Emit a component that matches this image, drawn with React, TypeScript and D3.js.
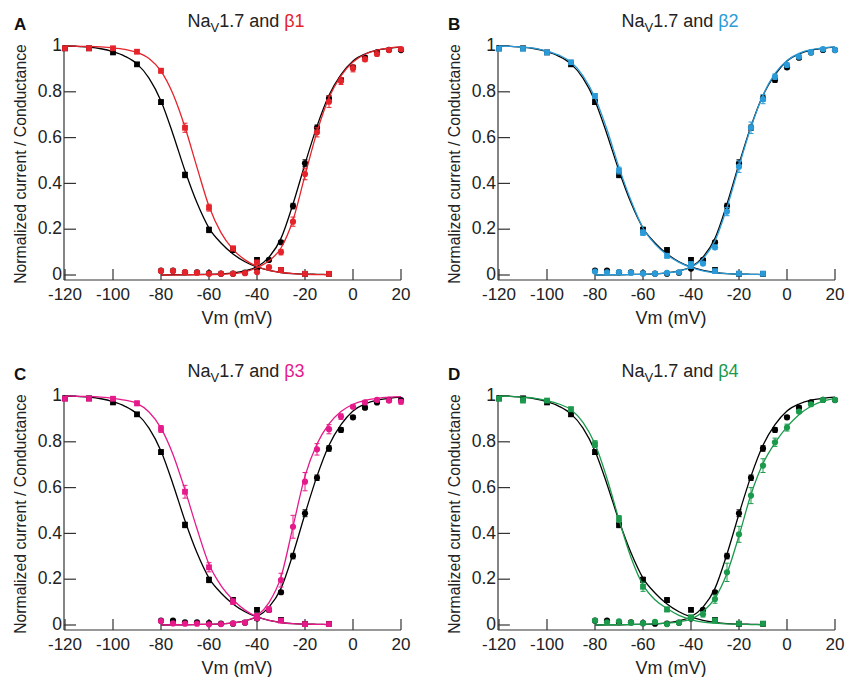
import React from "react";
import * as d3 from "d3";

// voltage steps
const inactV = [-120, -110, -100, -90, -80, -70, -60, -50, -40, -30, -20, -10];
const actV = [-80, -75, -70, -65, -60, -55, -50, -45, -40, -35, -30, -25, -20, -15, -10, -5, 0, 5, 10, 15, 20];
const inactFitV = [-120, -115, -110, -105, -100, -95, -90, -85, -80, -75, -70, -65, -60, -55, -50, -45, -40, -35, -30, -25, -20, -15, -10];
const actFitV = actV;

const xTicks = [-120, -100, -80, -60, -40, -20, 0, 20];
const yTicks = [0, 0.2, 0.4, 0.6, 0.8, 1];

// Nav1.7 alone (black, same in every panel)
const ctrlInact = [0.99, 0.99, 0.972, 0.92, 0.755, 0.437, 0.197, 0.109, 0.066, 0.022, 0.005, 0.005];
const ctrlInactErr = [0.005, 0.005, 0.006, 0.008, 0.01, 0.012, 0.012, 0.01, 0.006, 0.005, 0.003, 0.003];
const ctrlAct = [0.019, 0.019, 0.012, 0.012, 0.008, 0.006, 0.006, 0.01, 0.028, 0.066, 0.143, 0.301, 0.488, 0.643, 0.771, 0.852, 0.907, 0.949, 0.972, 0.983, 0.982];
const ctrlActErr = [0.003, 0.003, 0.003, 0.003, 0.003, 0.003, 0.003, 0.003, 0.005, 0.006, 0.008, 0.012, 0.015, 0.012, 0.012, 0.01, 0.008, 0.008, 0.006, 0.005, 0.005];
const ctrlInactFit = [1.0, 0.998, 0.995, 0.988, 0.975, 0.955, 0.922, 0.86, 0.76, 0.615, 0.455, 0.315, 0.205, 0.14, 0.092, 0.058, 0.035, 0.02, 0.011, 0.006, 0.004, 0.003, 0.002];
const ctrlActFit = [0.0, 0.001, 0.001, 0.002, 0.003, 0.005, 0.009, 0.018, 0.036, 0.078, 0.16, 0.31, 0.485, 0.65, 0.785, 0.875, 0.935, 0.965, 0.982, 0.99, 0.995];

// + beta1 (red)
const b1Inact = [0.99, 0.99, 0.99, 0.975, 0.892, 0.643, 0.294, 0.116, 0.055, 0.022, 0.005, 0.005];
const b1InactErr = [0.005, 0.005, 0.006, 0.008, 0.01, 0.02, 0.015, 0.01, 0.006, 0.005, 0.003, 0.003];
const b1Act = [0.018, 0.018, 0.013, 0.01, 0.006, 0.006, 0.006, 0.008, 0.012, 0.034, 0.1, 0.233, 0.441, 0.623, 0.757, 0.847, 0.902, 0.942, 0.965, 0.982, 0.986];
const b1ActErr = [0.003, 0.003, 0.003, 0.003, 0.003, 0.003, 0.003, 0.003, 0.004, 0.006, 0.012, 0.02, 0.025, 0.02, 0.025, 0.015, 0.015, 0.01, 0.008, 0.006, 0.005];
const b1InactFit = [1.0, 0.999, 0.998, 0.996, 0.992, 0.985, 0.972, 0.945, 0.89, 0.79, 0.645, 0.47, 0.3, 0.185, 0.112, 0.066, 0.037, 0.02, 0.011, 0.006, 0.003, 0.002, 0.001];
const b1ActFit = [0.0, 0.0, 0.001, 0.001, 0.002, 0.003, 0.006, 0.014, 0.032, 0.062, 0.118, 0.24, 0.435, 0.625, 0.775, 0.87, 0.93, 0.964, 0.982, 0.991, 0.996];

// + beta2 (blue)
const b2Inact = [0.988, 0.988, 0.972, 0.929, 0.782, 0.456, 0.185, 0.084, 0.048, 0.017, 0.006, 0.006];
const b2InactErr = [0.005, 0.005, 0.006, 0.008, 0.01, 0.015, 0.012, 0.01, 0.006, 0.005, 0.003, 0.003];
const b2Act = [0.015, 0.012, 0.013, 0.01, 0.007, 0.006, 0.009, 0.012, 0.04, 0.05, 0.121, 0.277, 0.473, 0.643, 0.768, 0.866, 0.917, 0.953, 0.972, 0.986, 0.983];
const b2ActErr = [0.003, 0.003, 0.003, 0.003, 0.003, 0.003, 0.003, 0.003, 0.006, 0.008, 0.01, 0.018, 0.025, 0.025, 0.02, 0.012, 0.01, 0.008, 0.006, 0.005, 0.005];
const b2InactFit = [1.0, 0.998, 0.995, 0.99, 0.978, 0.96, 0.93, 0.87, 0.775, 0.635, 0.47, 0.325, 0.205, 0.135, 0.088, 0.055, 0.033, 0.018, 0.01, 0.006, 0.004, 0.003, 0.002];
const b2ActFit = [0.0, 0.001, 0.001, 0.002, 0.003, 0.005, 0.009, 0.017, 0.034, 0.072, 0.15, 0.295, 0.475, 0.645, 0.785, 0.88, 0.937, 0.968, 0.984, 0.992, 0.996];

// + beta3 (magenta)
const b3Inact = [0.988, 0.988, 0.988, 0.968, 0.856, 0.582, 0.252, 0.102, 0.04, 0.019, 0.004, 0.004];
const b3InactErr = [0.005, 0.005, 0.006, 0.01, 0.015, 0.028, 0.02, 0.012, 0.008, 0.005, 0.003, 0.003];
const b3Act = [0.017, 0.007, 0.006, 0.006, 0.003, 0.004, 0.007, 0.01, 0.03, 0.068, 0.196, 0.429, 0.626, 0.767, 0.855, 0.91, 0.953, 0.972, 0.983, 0.98, 0.975];
const b3ActErr = [0.003, 0.003, 0.003, 0.003, 0.003, 0.003, 0.003, 0.003, 0.01, 0.012, 0.03, 0.05, 0.04, 0.025, 0.02, 0.012, 0.008, 0.006, 0.006, 0.008, 0.01];
const b3InactFit = [1.0, 0.999, 0.998, 0.995, 0.99, 0.982, 0.968, 0.93, 0.86, 0.745, 0.59, 0.42, 0.265, 0.172, 0.11, 0.065, 0.036, 0.02, 0.011, 0.006, 0.004, 0.003, 0.002];
const b3ActFit = [0.0, 0.001, 0.001, 0.002, 0.003, 0.005, 0.009, 0.018, 0.04, 0.098, 0.21, 0.43, 0.65, 0.79, 0.878, 0.932, 0.964, 0.981, 0.99, 0.995, 0.997];

// + beta4 (green)
const b4Inact = [0.988, 0.98, 0.98, 0.942, 0.79, 0.463, 0.167, 0.068, 0.034, 0.02, 0.006, 0.006];
const b4InactErr = [0.005, 0.005, 0.006, 0.01, 0.015, 0.015, 0.02, 0.01, 0.006, 0.005, 0.003, 0.003];
const b4Act = [0.019, 0.012, 0.016, 0.01, 0.008, 0.014, 0.004, 0.01, 0.029, 0.047, 0.113, 0.23, 0.396, 0.565, 0.696, 0.798, 0.862, 0.932, 0.964, 0.983, 0.983];
const b4ActErr = [0.003, 0.003, 0.003, 0.003, 0.003, 0.003, 0.003, 0.003, 0.008, 0.012, 0.018, 0.04, 0.035, 0.035, 0.03, 0.018, 0.015, 0.008, 0.008, 0.006, 0.005];
const b4InactFit = [1.0, 0.998, 0.995, 0.99, 0.98, 0.965, 0.94, 0.885, 0.79, 0.64, 0.46, 0.295, 0.175, 0.11, 0.072, 0.042, 0.024, 0.013, 0.008, 0.005, 0.003, 0.002, 0.001];
const b4ActFit = [0.0, 0.001, 0.001, 0.002, 0.003, 0.005, 0.008, 0.014, 0.026, 0.058, 0.117, 0.226, 0.39, 0.57, 0.705, 0.795, 0.865, 0.918, 0.955, 0.978, 0.99];

const panels = [
  { letter: "A", beta: "β1", color: "#e5232b", ox: 0, oy: 0, inact: b1Inact, inactErr: b1InactErr, act: b1Act, actErr: b1ActErr, inactFit: b1InactFit, actFit: b1ActFit },
  { letter: "B", beta: "β2", color: "#2a9bd8", ox: 434, oy: 0, inact: b2Inact, inactErr: b2InactErr, act: b2Act, actErr: b2ActErr, inactFit: b2InactFit, actFit: b2ActFit },
  { letter: "C", beta: "β3", color: "#e5198a", ox: 0, oy: 350, inact: b3Inact, inactErr: b3InactErr, act: b3Act, actErr: b3ActErr, inactFit: b3InactFit, actFit: b3ActFit },
  { letter: "D", beta: "β4", color: "#1b9a4c", ox: 434, oy: 350, inact: b4Inact, inactErr: b4InactErr, act: b4Act, actErr: b4ActErr, inactFit: b4InactFit, actFit: b4ActFit },
];

const font = "'Liberation Sans', Arial, Helvetica, sans-serif";
const axisColor = "#333";

const x = d3.scaleLinear().domain([-120, 20]).range([65, 401]);
const y = d3.scaleLinear().domain([0, 1]).range([275, 46]);
const xAxisY = 280;

const line = d3
  .line<[number, number]>()
  .x(d => x(d[0]))
  .y(d => y(d[1]))
  .curve(d3.curveMonotoneX);

const Series = ({ vs, vals, errs, color, shape }) => (
  <g>
    {vs.map((v, i) => {
      const cx = x(v);
      const cy = y(vals[i]);
      const e = errs[i];
      const y1 = y(vals[i] + e);
      const y2 = y(vals[i] - e);
      return (
        <g key={i}>
          {e > 0.004 && (
            <g stroke={color} strokeWidth={1}>
              <line x1={cx} x2={cx} y1={y1} y2={y2} />
              <line x1={cx - 2.5} x2={cx + 2.5} y1={y1} y2={y1} />
              <line x1={cx - 2.5} x2={cx + 2.5} y1={y2} y2={y2} />
            </g>
          )}
          {shape === "square" ? (
            <rect x={cx - 2.9} y={cy - 2.9} width={5.8} height={5.8} fill={color} />
          ) : (
            <circle cx={cx} cy={cy} r={3.1} fill={color} />
          )}
        </g>
      );
    })}
  </g>
);

const Fit = ({ vs, vals, color }) => (
  <path
    d={line(vs.map((v, i) => [v, vals[i]] as [number, number])) || ""}
    fill="none"
    stroke={color}
    strokeWidth={1.3}
  />
);

const Panel = ({ p }) => (
  <g transform={`translate(${p.ox},${p.oy})`} fontFamily={font}>
    {/* panel letter and title */}
    <text x={14} y={30} fontSize={17} fontWeight="bold" fill="#111">
      {p.letter}
    </text>
    <text x={246} y={27} fontSize={18} fill="#222" textAnchor="middle">
      Na
      <tspan fontSize={13} dy={5}>V</tspan>
      <tspan dy={-5}>{"1.7 and "}</tspan>
      <tspan fill={p.color}>{p.beta}</tspan>
    </text>

    {/* axes */}
    <line x1={x(-120) - 1} x2={x(-120) - 1} y1={y(1) - 1} y2={xAxisY} stroke={axisColor} strokeWidth={1.2} />
    <line x1={x(-120) - 1} x2={x(20)} y1={xAxisY} y2={xAxisY} stroke={axisColor} strokeWidth={1.2} />
    {yTicks.map(t => (
      <g key={t}>
        <line x1={x(-120) - 1} x2={x(-120) + 11} y1={y(t)} y2={y(t)} stroke={axisColor} strokeWidth={1.2} />
        <text x={x(-120) - 3} y={y(t)} dy="0.3em" fontSize={17.5} textAnchor="end" fill="#222">
          {String(t)}
        </text>
      </g>
    ))}
    {xTicks.map(t => (
      <g key={t}>
        <line x1={x(t)} x2={x(t)} y1={xAxisY} y2={xAxisY - 11} stroke={axisColor} strokeWidth={1.2} />
        <text x={x(t)} y={299.5} fontSize={17} textAnchor="middle" fill="#222">
          {String(t)}
        </text>
      </g>
    ))}
    <text x={237} y={324} fontSize={18} textAnchor="middle" fill="#222">
      Vm (mV)
    </text>
    <text
      transform={`translate(26,164) rotate(-90)`}
      fontSize={15.8}
      textAnchor="middle"
      fill="#222"
    >
      Normalized current / Conductance
    </text>

    {/* control Nav1.7 */}
    <Fit vs={inactFitV} vals={ctrlInactFit} color="#000" />
    <Fit vs={actFitV} vals={ctrlActFit} color="#000" />
    <Series vs={inactV} vals={ctrlInact} errs={ctrlInactErr} color="#000" shape="square" />
    <Series vs={actV} vals={ctrlAct} errs={ctrlActErr} color="#000" shape="circle" />

    {/* with beta subunit */}
    <Fit vs={inactFitV} vals={p.inactFit} color={p.color} />
    <Fit vs={actFitV} vals={p.actFit} color={p.color} />
    <Series vs={inactV} vals={p.inact} errs={p.inactErr} color={p.color} shape="square" />
    <Series vs={actV} vals={p.act} errs={p.actErr} color={p.color} shape="circle" />
  </g>
);

export default function App() {
  return (
    <svg
      width={851}
      height={677}
      style={{ position: "absolute", left: 0, top: 0, background: "#fff" }}
    >
      <rect width={851} height={677} fill="#fff" />
      {panels.map(p => (
        <Panel key={p.letter} p={p} />
      ))}
    </svg>
  );
}
